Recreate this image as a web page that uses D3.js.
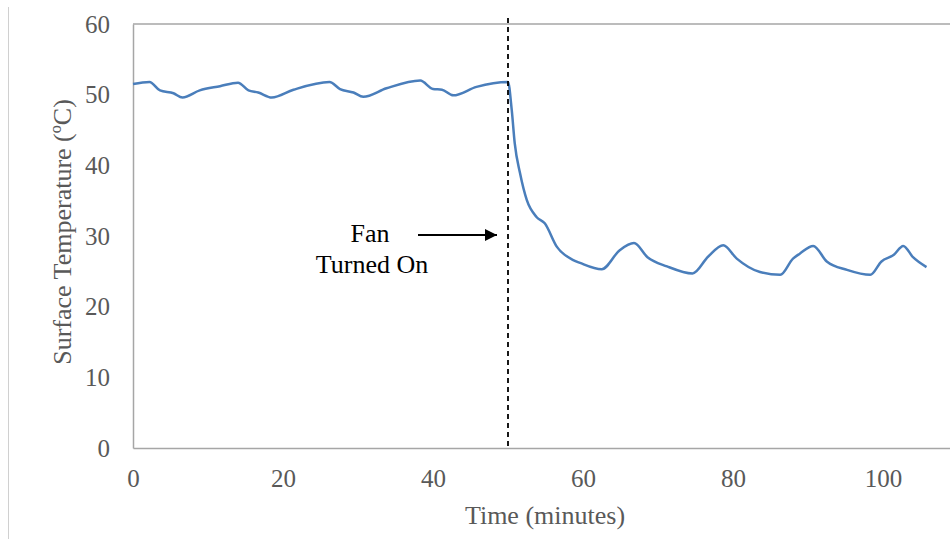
<!DOCTYPE html>
<html>
<head>
<meta charset="utf-8">
<script src="https://cdn.jsdelivr.net/npm/d3@7"></script>
<style>
  body { margin: 0; background: #fff; }
  svg { display: block; font-family: "Liberation Serif", "Times New Roman", serif; }
</style>
</head>
<body>
<script>
// time (minutes) and surface temperature (°C)
var minutes = [0, 2.2, 3.6, 5.4, 6.6, 8.9, 11.6, 14.0, 15.4, 16.7, 18.5, 21.4, 26.2, 27.6, 29.4, 30.7,
	33.8, 38.3, 40.0, 41.2, 42.7, 45.8, 50.0, 50.5, 50.9, 51.6, 52.5, 53.8, 54.9, 56.5, 58.7,
	59.6, 62.5, 64.9, 66.8, 68.6, 71.2, 74.6, 76.7, 78.7, 80.5, 83.6, 86.3, 88.0, 88.9, 90.7,
	92.5, 95.2, 98.3, 99.8, 101.4, 102.7, 104.0, 105.8];
var temps = [51.5, 51.8, 50.6, 50.2, 49.6, 50.6, 51.2, 51.7, 50.6, 50.3, 49.6, 50.7, 51.8, 50.8, 50.3, 49.7,
	50.9, 52.0, 50.8, 50.7, 49.9, 51.1, 51.8, 47.8, 43.1, 38.9, 35.1, 32.7, 31.8, 28.5, 26.6,
	26.2, 25.3, 28.0, 29.0, 27.0, 25.7, 24.7, 27.1, 28.7, 26.8, 24.9, 24.5, 26.8, 27.5, 28.6,
	26.4, 25.2, 24.5, 26.4, 27.3, 28.6, 27.0, 25.6];

var xTicks = [0, 20, 40, 60, 80, 100];
var yTicks = [0, 10, 20, 30, 40, 50, 60];
var fanOnAt = 50;

var W = 950, H = 539;
var margin = {top: 24, left: 133, bottom: 91};

var svg = d3.select("body").append("svg")
	.attr("width", W)
	.attr("height", H);

// x runs past the right edge of the picture, as in the original crop
var x = d3.scaleLinear().domain([0, 120]).range([margin.left, margin.left + 900]);
var y = d3.scaleLinear().domain([0, 60]).range([H - margin.bottom, margin.top]);

// thin frame line at the far left of the image
svg.append("line")
	.attr("x1", 8.5).attr("x2", 8.5)
	.attr("y1", 7).attr("y2", H)
	.attr("stroke", "#d0d0d0").attr("stroke-width", 1);

// plot frame: left, top, bottom
var frame = "#a6a6a6";
svg.append("line")
	.attr("x1", x(0)).attr("x2", W)
	.attr("y1", y(60)).attr("y2", y(60))
	.attr("stroke", frame).attr("stroke-width", 1.5);

var xAxis = svg.append("g")
	.attr("transform", "translate(0," + y(0) + ")")
	.call(d3.axisBottom(x).tickValues(xTicks).tickSize(0).tickPadding(21));
xAxis.select(".domain").attr("stroke", frame).attr("stroke-width", 1.5);

var yAxis = svg.append("g")
	.attr("transform", "translate(" + x(0) + ",0)")
	.call(d3.axisLeft(y).tickValues(yTicks).tickSize(0).tickPadding(23));
yAxis.select(".domain").attr("stroke", frame).attr("stroke-width", 1.5);

svg.selectAll(".tick text")
	.attr("font-family", "Liberation Serif, serif")
	.attr("font-size", 25)
	.attr("fill", "#595959");

// axis titles
svg.append("text")
	.attr("x", 545).attr("y", 524)
	.attr("text-anchor", "middle")
	.attr("font-size", 26)
	.attr("fill", "#595959")
	.text("Time (minutes)");

svg.append("text")
	.attr("transform", "translate(71,232) rotate(-90)")
	.attr("text-anchor", "middle")
	.attr("font-size", 26)
	.attr("fill", "#595959")
	.text("Surface Temperature (ºC)");

// temperature line
var pts = minutes.map(function(m, i) { return [m, temps[i]]; });
var line = d3.line()
	.curve(d3.curveMonotoneX)
	.x(function(d) { return x(d[0]); })
	.y(function(d) { return y(d[1]); });

svg.append("path")
	.datum(pts)
	.attr("d", line)
	.attr("fill", "none")
	.attr("stroke", "#4a7ebb")
	.attr("stroke-width", 2.5)
	.attr("stroke-linejoin", "round");

// fan switch-on marker
svg.append("line")
	.attr("x1", x(fanOnAt)).attr("x2", x(fanOnAt))
	.attr("y1", 18).attr("y2", y(0))
	.attr("stroke", "#000")
	.attr("stroke-width", 1.8)
	.attr("stroke-dasharray", "5,4");

var defs = svg.append("defs");
defs.append("marker")
	.attr("id", "arrow")
	.attr("viewBox", "0 0 10 10")
	.attr("refX", 10).attr("refY", 5)
	.attr("markerWidth", 8).attr("markerHeight", 6)
	.attr("markerUnits", "strokeWidth")
	.attr("orient", "auto")
  .append("path")
	.attr("d", "M0,0 L10,5 L0,10 z")
	.attr("fill", "#000");

svg.append("line")
	.attr("x1", 418).attr("x2", x(fanOnAt) - 11)
	.attr("y1", 235).attr("y2", 235)
	.attr("stroke", "#000")
	.attr("stroke-width", 2)
	.attr("marker-end", "url(#arrow)");

svg.append("text")
	.attr("x", 370).attr("y", 242)
	.attr("text-anchor", "middle")
	.attr("font-size", 26)
	.attr("fill", "#000")
	.text("Fan");

svg.append("text")
	.attr("x", 372).attr("y", 273)
	.attr("text-anchor", "middle")
	.attr("font-size", 26)
	.attr("fill", "#000")
	.text("Turned On");
</script>
</body>
</html>
